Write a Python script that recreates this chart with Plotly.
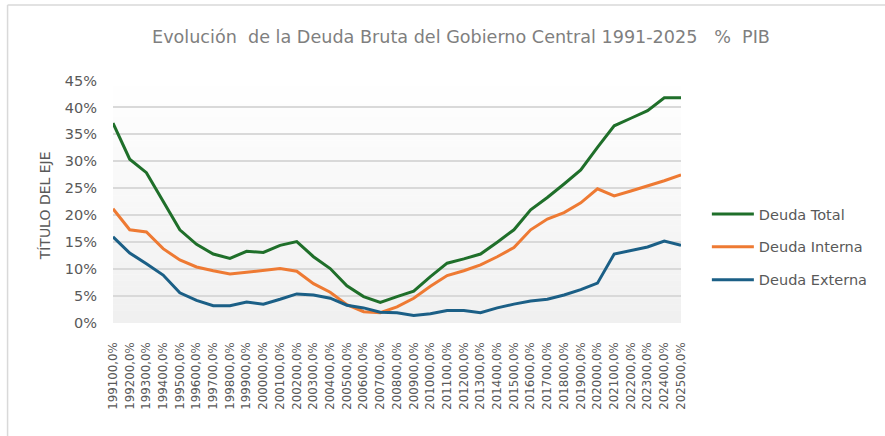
import plotly.graph_objects as go

years = list(range(1991, 2026))
tick_labels = [f"{y}00,0%" for y in years]

deuda_total = [37.1, 30.4, 27.9, 22.5, 17.3, 14.6, 12.8, 12.0, 13.3, 13.1,
               14.4, 15.1, 12.3, 10.1, 6.9, 4.9, 3.8, 4.9, 5.9, 8.6,
               11.1, 11.9, 12.8, 15.0, 17.3, 21.0, 23.3, 25.8, 28.4, 32.6,
               36.6, 38.0, 39.4, 41.8, 41.8]
deuda_interna = [21.2, 17.3, 16.9, 13.8, 11.7, 10.4, 9.7, 9.1, 9.4, 9.7,
                 10.1, 9.6, 7.3, 5.7, 3.4, 2.1, 1.9, 3.0, 4.6, 6.8,
                 8.8, 9.7, 10.8, 12.3, 14.0, 17.3, 19.3, 20.5, 22.3, 24.9,
                 23.6, 24.5, 25.4, 26.4, 27.5]
deuda_externa = [16.0, 13.0, 11.0, 8.9, 5.6, 4.2, 3.2, 3.2, 3.9, 3.5,
                 4.4, 5.4, 5.2, 4.6, 3.3, 2.8, 2.0, 1.9, 1.4, 1.7,
                 2.3, 2.3, 1.9, 2.8, 3.5, 4.1, 4.4, 5.2, 6.2, 7.4,
                 12.8, 13.4, 14.1, 15.2, 14.4]

series = [
    ("Deuda Total", deuda_total, "#1f6f2a"),
    ("Deuda Interna", deuda_interna, "#ee7a33"),
    ("Deuda Externa", deuda_externa, "#1b5f86"),
]

fig = go.Figure()
for i, (name, vals, color) in enumerate(series):
    fig.add_trace(go.Scatter(
        x=tick_labels, y=vals, name=name, mode="lines",
        line=dict(color=color, width=3),
        legendgroup=str(i),
    ))

W, H = 885, 436
L, R, T, B = 113, 201, 80, 113
pw = W - L - R
ph = H - T - B

shapes = []
n = 40
for k in range(n):
    y0 = k / n
    y1 = (k + 1) / n
    g = int(round(240 + (255 - 240) * y0))
    shapes.append(dict(type="rect", xref="paper", yref="paper",
                       x0=0, x1=1, y0=y0, y1=y1 + 0.001,
                       fillcolor=f"rgb({g},{g},{g})", line=dict(width=0),
                       layer="below"))

xl = (7 - L) / pw
xr = (W + 5 - L) / pw
yt = (H - B - 5) / ph
yb = (H - B - (H + 5)) / ph
shapes.append(dict(type="line", xref="paper", yref="paper",
                   x0=xl, x1=xr, y0=yt, y1=yt,
                   line=dict(color="#d9d9d9", width=1.5)))
shapes.append(dict(type="line", xref="paper", yref="paper",
                   x0=xl, x1=xl, y0=yt, y1=yb,
                   line=dict(color="#d9d9d9", width=1.5)))

font = "'DejaVu Sans', sans-serif"

fig.update_layout(
    width=W, height=H,
    margin=dict(l=L, r=R, t=T, b=B),
    paper_bgcolor="white",
    plot_bgcolor="white",
    font=dict(family=font, color="#595959"),
    title=dict(
        text="Evolución&nbsp; de la Deuda Bruta del Gobierno Central 1991-2025&nbsp;&nbsp; %&nbsp; PIB",
        x=461 / W, xanchor="center", y=1 - 37 / H, yanchor="middle",
        font=dict(size=17.6, color="#7f7f7f", family=font),
    ),
    xaxis=dict(
        type="category",
        tickangle=-90,
        tickfont=dict(size=11.8, color="#595959"),
        showgrid=False, showline=False, zeroline=False,
        ticks="", ticklen=0,
        ticklabelstandoff=16,
    ),
    yaxis=dict(
        range=[0, 45.1],
        dtick=5,
        ticksuffix="%",
        tickfont=dict(size=14.5, color="#595959"),
        showgrid=True, gridcolor="#d9d9d9", gridwidth=1.5,
        zeroline=False, showline=False,
        ticks="", ticklen=0,
        ticklabelstandoff=15,
    ),
    annotations=[dict(
        text="TÍTULO DEL EJE", textangle=-90,
        xref="paper", yref="paper",
        x=(45 - L) / pw, y=(H - B - 206) / ph,
        xanchor="center", yanchor="middle", showarrow=False,
        font=dict(size=14, color="#595959", family=font),
    )],
    legend=dict(
        x=(710 - L) / pw, xanchor="left",
        y=(H - B - 198) / ph, yanchor="top",
        font=dict(size=14.5, color="#595959"),
        bgcolor="rgba(0,0,0,0)",
        tracegroupgap=11,
        itemwidth=42,
    ),
    shapes=shapes,
    showlegend=True,
)

fig.write_html("out.html", config={"displayModeBar": False},
               post_script="document.body.style.margin='0';")
